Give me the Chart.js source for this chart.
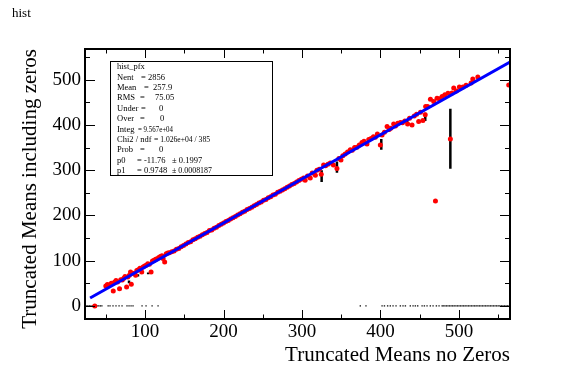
<!DOCTYPE html>
<html><head><meta charset="utf-8">
<script src="https://cdn.jsdelivr.net/npm/chart.js@4.4.1/dist/chart.umd.min.js"></script>
<style>html,body{margin:0;padding:0;background:#fff}</style>
</head><body>
<canvas id="c" width="567" height="376"></canvas>
<script>
/* profile of hist_pfx: truncated means with vs without zeros */
const profX=[36,50,52,54.5,57,59.5,61,63,65,67.5,69,71,73,74.5,76.5,78,80,81.5,82.5,84.5,86.5,88,89.5,91.5,93.5,95.8,97.5,99.5,101.5,103.5,105.5,107.7,109.5,111.5,113.5,115.5,117.5,119.5,121.5,123,125,127,129,
 131,134,137,140,143,146,149,152,155,158,161,164,167,170,173,176,179,182,185,188,191,194,197,200,203,206,209,212,215,218,221,224,227,230,233,236,239,242,245,248,251,254,257,260,263,266,269,272,275,278,281,284,287,290,293,296,299,
 302,304,307,310.5,313,317,319,322,324.5,327.5,330,333,336,340,344.5,347,349.6,352,355,358,361.5,364,367,370,373,376.4,379,382.8,385,388,391,393.4,396,399.8,402,405,408.4,411,413,416.8,419,422,425.3,428,431,434.6,437,440.2,443,446,448.6,451,454,457,457.5,460,463.6,467.8,470,472,475,478.5,482,486,489,491,493.3,496.6,500.5,505,509,515.4,517.6,524,563.4];
const profY=[0,44,47.5,46,50,33,52,56,53,38,58,57,61,65,42,64,68,75,48,72,71,67.5,78,80,83,75,86,88,90,93,92,75,99,101,103,104,107,109,111,105,97,115,117,
 117.5,119.5,121.5,125,127,131,133.5,137,140,142,146,148.5,151.5,154,157.5,160,162,166.5,168,171.5,174,177.5,180.5,183,186.5,189,192,195,197.5,201,203.5,207,209,213,215.5,218,221.5,224,227.5,229.5,233.5,235.5,239,241.5,245,247,251,253.5,256.5,259,262.5,265,268.5,270.5,274,277,280,
 283,278,287,283,294,289,300,302,291,311.5,310,313,316,311.5,304,326,322.6,332,336,340,345,344,350,351,356,361,364,358,368,370,374,373,380,356,378,384,396.5,390,393,402.4,398,404,405.3,405,409,402.4,415,400,420,424,407.5,428,410,422.4,440.8,441,457,452,232,459,458,463,467,470,369,470.5,481.6,475,483.8,484,488,492.7,501.6,506,488.5];

// spread of entries in a few x bins (vertical bars)
const segX=[79.6,91,104,325,344.5,401,434,457,489];
const segLo=[50,65,70,274,294.5,345,398,409,303];
const segHi=[56,70,74,300,319,369,411,427,436];

// entries with zero "including zeros" mean
const zeroX=[25,27,29,31,33,35,37,39,41,43,45,53,55.4,59.2,63,66.9,70.7,77,79.6,82.2,84.7,96.2,101.3,109,116.6,
 374.3,381.5,402,405,409.1,412.5,416,419.8,425.3,428.7,431.7,438,441.5,444.4,447.4,453,455.9,459.3,463.5,467,471.2,474.6,478.5,
 480,482,484,486,488,490,492,494,496,498,500,502,504,506,508,510,512,514,516,518,520,522,524,526,528,530,532,534,536,538,540,542,544,546,548,550,552,554,556,558,560,562,564];

// pol1 fit line end points (p0=-11.76, p1=0.9748)
const fitX=[30,565];
const fitY=[17.5,539];

// stats box: [text, x, maxWidth]
const statLines=[
 [['hist_pfx',117]],
 [['Nent',117],['= 2856',141]],
 [['Mean',117],['=',144],['257.9',153]],
 [['RMS',117],['=',140],['75.05',155]],
 [['Under',117],['=',141],['0',159]],
 [['Over',117],['=',140],['0',160]],
 [['Integ',117],['= 9.567e+04',138,35]],
 [['Chi2 / ndf',117],['= 1.026e+04 / 385',154,56]],
 [['Prob',117],['=',140],['0',159]],
 [['p0',117],['= -11.76',137],['\u00b1 0.1997',172]],
 [['p1',117],['= 0.9748',137],['\u00b1 0.0008187',172,40]]
];

const SERIF='"Liberation Serif","DejaVu Serif",serif';

const framePlugin={id:'frame',
  afterDatasetsDraw(chart){
    const {ctx,chartArea:a,scales:{x,y}}=chart;
    ctx.save();
    ctx.strokeStyle='#000';
    // inward ticks
    ctx.lineWidth=1;
    ctx.beginPath();
    x.ticks.forEach(t=>{ const px=Math.round(x.getPixelForValue(t.value))+0.5; const L=t.value%100===0?9:4.5;
      ctx.moveTo(px,a.bottom); ctx.lineTo(px,a.bottom-L); ctx.moveTo(px,a.top); ctx.lineTo(px,a.top+L); });
    y.ticks.forEach(t=>{ const py=Math.round(y.getPixelForValue(t.value))+0.5; const L=t.value%100===0?10:5;
      ctx.moveTo(a.left,py); ctx.lineTo(a.left+L,py); ctx.moveTo(a.right,py); ctx.lineTo(a.right-L,py); });
    ctx.stroke();
    ctx.lineWidth=2;
    ctx.strokeRect(a.left,a.top,a.right-a.left,a.bottom-a.top);
    // stats box
    ctx.fillStyle='#fff'; ctx.fillRect(110,61,162,114);
    ctx.lineWidth=1; ctx.strokeRect(110.5,61.5,162,114);
    ctx.fillStyle='#000'; ctx.font='8.5px '+SERIF; ctx.textBaseline='middle'; ctx.textAlign='left';
    statLines.forEach((ln,i)=>{ ln.forEach(([s,px,mw])=>{ if(mw) ctx.fillText(s,px,67+i*10.4,mw); else ctx.fillText(s,px,67+i*10.4); }); });
    // title
    ctx.font='13px '+SERIF; ctx.textBaseline='alphabetic';
    ctx.fillText('hist',12,17);
    ctx.restore();
  }};

const el=document.getElementById('c');
new Chart(el,{
  type:'scatter',
  data:{datasets:[
    {type:'line',label:'fit',data:fitX.map((v,i)=>({x:v,y:fitY[i]})),borderColor:'#0000ff',borderWidth:3,pointRadius:0,order:0},
    {label:'profile',data:profX.map((v,i)=>({x:v,y:profY[i]})),backgroundColor:'#ff0000',borderWidth:0,pointRadius:2.5,order:1},
    {type:'line',label:'spread',data:segX.flatMap((v,i)=>[{x:v,y:segLo[i]},{x:v,y:segHi[i]},{x:v,y:null}]),borderColor:'#000',borderWidth:2.5,pointRadius:0,spanGaps:false,order:2},
    {label:'zeros',data:zeroX.map(v=>({x:v,y:0})),pointStyle:'rect',pointRadius:1,backgroundColor:'#222',borderWidth:0,order:3}
  ]},
  options:{
    responsive:false,animation:false,
    layout:{padding:{top:49,right:57,left:0,bottom:0}},
    plugins:{legend:{display:false},tooltip:{enabled:false}},
    scales:{
      x:{type:'linear',min:23.5,max:565,afterFit(s){s.height=57;},
        grid:{display:false,drawTicks:false},border:{display:false},
        ticks:{stepSize:50,includeBounds:false,autoSkip:false,maxRotation:0,padding:2,color:'#000',font:{family:SERIF,size:19},callback:v=>v%100===0?String(v):''},
        title:{display:true,text:'Truncated Means no Zeros',align:'end',color:'#000',font:{family:SERIF,size:21},padding:{top:0,bottom:8}}},
      y:{type:'linear',min:-29,max:568,afterFit(s){s.width=85;},
        grid:{display:false,drawTicks:false},border:{display:false},
        ticks:{stepSize:50,includeBounds:false,autoSkip:false,padding:4,color:'#000',font:{family:SERIF,size:19},callback:v=>v%100===0?String(v):''},
        title:{display:true,text:'Truncated Means including zeros',align:'end',color:'#000',font:{family:SERIF,size:21},padding:{top:18,bottom:0}}}
    }
  },
  plugins:[framePlugin]
});
</script>
</body></html>
